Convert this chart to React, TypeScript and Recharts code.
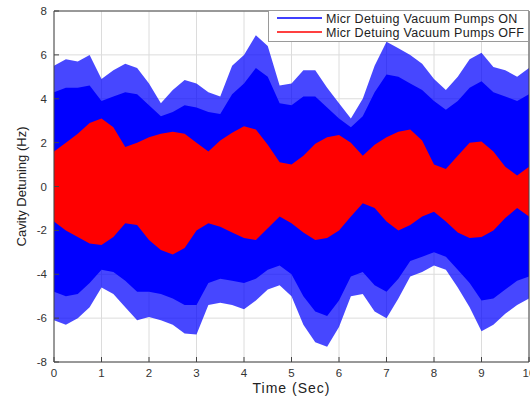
import { ComposedChart, Area, XAxis, YAxis, CartesianGrid, Label } from 'recharts'

const FONT = "'Liberation Sans', Arial, sans-serif"

// time axis (s), envelope read every 0.25 s
const time = [
  0, 0.25, 0.5, 0.75, 1, 1.25, 1.5, 1.75, 2, 2.25, 2.5, 2.75, 3, 3.25, 3.5, 3.75, 4, 4.25, 4.5, 4.75, 5,
  5.25, 5.5, 5.75, 6, 6.25, 6.5, 6.75, 7, 7.25, 7.5, 7.75, 8, 8.25, 8.5, 8.75, 9, 9.25, 9.5, 9.75, 10,
]

// pumps ON: spike tips and dense band
const onPeakHigh = [
  5.5, 5.8, 5.7, 6.0, 4.9, 5.3, 5.6, 5.4, 4.7, 3.8, 4.4, 4.85, 4.7, 4.3, 4.1, 5.5, 6.0, 6.9, 6.4, 4.6, 4.7,
  5.3, 5.3, 4.5, 3.8, 3.1, 4.0, 5.5, 6.6, 6.3, 6.0, 5.6, 4.9, 4.4, 5.0, 5.8, 6.1, 5.45, 5.3, 5.0, 5.4,
]
const onHigh = [
  4.3, 4.5, 4.5, 4.6, 3.9, 4.1, 4.3, 4.2, 3.7, 3.2, 3.4, 3.7, 3.6, 3.4, 3.3, 4.2, 4.7, 5.4, 5.0, 3.8, 3.7,
  4.1, 4.1, 3.6, 3.1, 2.7, 3.2, 4.3, 5.1, 5.0, 4.7, 4.4, 3.9, 3.5, 3.9, 4.5, 4.8, 4.3, 4.1, 3.9, 4.2,
]
const onLow = [
  -4.8, -5.0, -4.9, -4.4, -3.8, -3.9, -4.3, -4.8, -4.8, -4.9, -5.1, -5.4, -5.4, -4.4, -4.2, -4.3, -4.4, -4.2, -3.8, -3.6, -4.0,
  -5.0, -5.7, -5.9, -5.2, -4.1, -3.9, -4.5, -4.8, -4.2, -3.4, -3.2, -3.0, -3.2, -3.8, -4.4, -5.2, -5.1, -4.7, -4.3, -4.1,
]
const onPeakLow = [
  -6.1, -6.3, -6.0, -5.5, -4.6, -4.9, -5.5, -6.1, -5.95, -6.1, -6.3, -6.7, -6.75, -5.4, -5.3, -5.4, -5.6, -5.2, -4.7, -4.5, -5.0,
  -6.3, -7.1, -7.3, -6.4, -5.0, -4.9, -5.7, -6.0, -5.1, -4.1, -3.9, -3.6, -3.8, -4.6, -5.5, -6.6, -6.3, -5.8, -5.4, -5.1,
]

// pumps OFF
const offHigh = [
  1.6, 2.0, 2.4, 2.9, 3.1, 2.7, 1.8, 2.0, 2.25, 2.4, 2.5, 2.4, 2.0, 1.6, 2.1, 2.45, 2.75, 2.6, 1.9, 1.1, 1.0,
  1.4, 1.95, 2.25, 2.35, 2.0, 1.4, 1.9, 2.25, 2.5, 2.6, 2.1, 1.0, 0.8, 1.4, 2.0, 2.05, 1.6, 0.9, 0.5, 0.9,
]
const offLow = [
  -1.6, -2.0, -2.3, -2.6, -2.67, -2.3, -1.67, -1.75, -2.44, -2.9, -3.1, -2.8, -2.0, -1.67, -1.83, -2.1, -2.35, -2.44, -1.9, -1.37, -1.67,
  -2.1, -2.44, -2.35, -2.0, -1.37, -0.76, -0.98, -1.6, -2.0, -1.75, -1.37, -1.15, -1.6, -2.1, -2.35, -2.3, -2.0, -1.44, -0.98, -1.37,
]

const xTicks = [0, 1, 2, 3, 4, 5, 6, 7, 8, 9, 10]
const yTicks = [-8, -6, -4, -2, 0, 2, 4, 6, 8]

const seriesNames = ['Micr Detuing Vacuum Pumps ON', 'Micr Detuing Vacuum Pumps OFF']
const seriesColors = ['#0000ff', '#ff0000']

const data = time.map((t, i) => ({
  t,
  onOuter: [onPeakLow[i], onPeakHigh[i]],
  onInner: [onLow[i], onHigh[i]],
  off: [offLow[i], offHigh[i]],
}))

const tickStyle = { fontSize: 11.5, fill: '#333', fontFamily: FONT }
const axisColor = '#444'

function LegendBox() {
  return (
    <svg
      width={261}
      height={32}
      style={{ position: 'absolute', left: 268, top: 10, fontFamily: FONT }}
    >
      <rect x={0.5} y={0.5} width={260} height={31} fill="#fff" stroke="#9a9a9a" />
      {seriesNames.map((name, i) => (
        <g key={name}>
          <line x1={9} x2={54} y1={8 + i * 14} y2={8 + i * 14} stroke={seriesColors[i]} strokeWidth={1.5} />
          <text x={58} y={12.5 + i * 14} fontSize={12.5} fill="#222" letterSpacing={0.3}>
            {name}
          </text>
        </g>
      ))}
    </svg>
  )
}

export default function App() {
  return (
    <div style={{ position: 'absolute', left: 0, top: 0, width: 530, height: 396, background: '#fff' }}>
      <ComposedChart
        width={530}
        height={396}
        data={data}
        margin={{ top: 10, right: 0, bottom: 0, left: 0 }}
      >
        <CartesianGrid stroke="#dcdcdc" ticks={undefined} />
        <XAxis
          dataKey="t"
          type="number"
          domain={[0, 10]}
          ticks={xTicks}
          interval={0}
          height={34}
          stroke={axisColor}
          tickSize={-5}
          tickMargin={12}
          tick={tickStyle}
        >
          <Label
            value="Time (Sec)"
            position="insideBottom"
            offset={3}
            style={{ fontSize: 14, fill: '#222', fontFamily: FONT, letterSpacing: '1px' }}
          />
        </XAxis>
        <XAxis
          xAxisId="top"
          orientation="top"
          dataKey="t"
          type="number"
          domain={[0, 10]}
          ticks={xTicks}
          interval={0}
          height={1}
          stroke={axisColor}
          tickSize={5}
          tick={false}
        />
        <YAxis
          type="number"
          domain={[-8, 8]}
          ticks={yTicks}
          interval={0}
          width={54}
          stroke={axisColor}
          tickSize={-5}
          tickMargin={12}
          tick={tickStyle}
        >
          <Label
            value="Cavity Detuning (Hz)"
            position="insideLeft"
            angle={-90}
            offset={21}
            style={{ fontSize: 13, fill: '#222', fontFamily: FONT, textAnchor: 'middle' }}
          />
        </YAxis>
        <YAxis
          yAxisId="right"
          orientation="right"
          type="number"
          domain={[-8, 8]}
          ticks={yTicks}
          interval={0}
          width={1}
          stroke={axisColor}
          tickSize={5}
          tick={false}
        />
        <Area
          type="linear"
          dataKey="onOuter"
          stroke="none"
          fill="#0000ff"
          fillOpacity={0.72}
          isAnimationActive={false}
        />
        <Area
          type="linear"
          dataKey="onInner"
          stroke="none"
          fill="#0000ff"
          fillOpacity={1}
          isAnimationActive={false}
        />
        <Area
          type="linear"
          dataKey="off"
          stroke="none"
          fill="#ff0000"
          fillOpacity={1}
          isAnimationActive={false}
        />
      </ComposedChart>
      <LegendBox />
    </div>
  )
}
